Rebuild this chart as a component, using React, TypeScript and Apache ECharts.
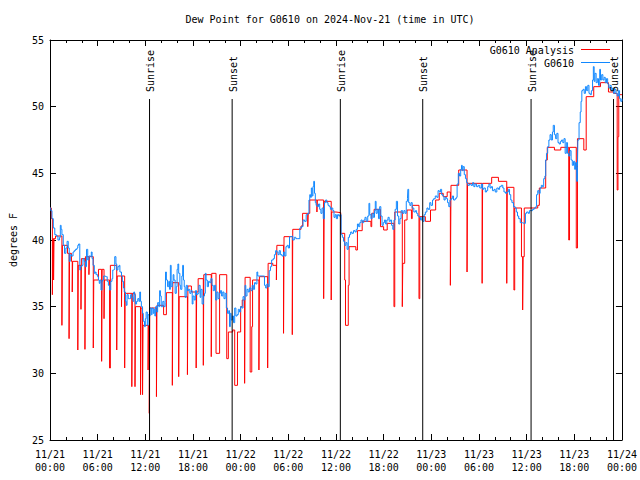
import React, { useEffect, useRef } from "react";
import * as echarts from "echarts";

// Hours since 2024-11-21 00:00 UTC, dew point in degrees F
const analysisPoints: [number, number][] = [
  [0.0, 42.4], [0.17, 41.6], [0.3, 35.9], [0.36, 40.1], [0.45, 37.0], [0.5, 40.1], [0.7, 40.3],
  [1.5, 33.6], [1.56, 39.6], [2.2, 39.0], [2.4, 32.6], [2.46, 39.0], [2.7, 38.4], [2.8, 36.1],
  [2.85, 38.4], [3.5, 31.75], [3.56, 38.1], [3.9, 34.8], [3.95, 38.6], [4.4, 31.8], [4.46, 38.75],
  [4.9, 37.4], [4.95, 38.75], [5.45, 31.9], [5.51, 37.0], [6.1, 37.8], [6.5, 30.9], [6.56, 37.8],
  [6.8, 34.1], [6.85, 37.0], [7.5, 30.4], [7.6, 38.1], [8.4, 31.75], [8.46, 37.3], [9.0, 35.0],
  [9.05, 37.3], [9.4, 30.4], [9.46, 36.0], [10.3, 29.0], [10.36, 36.0], [10.7, 29.0], [10.76, 35.0],
  [11.4, 28.4], [11.46, 34.9], [11.65, 28.4], [11.71, 33.6], [12.35, 30.25], [12.4, 33.6],
  [12.5, 27.0], [12.56, 34.9], [13.4, 28.25], [13.46, 35.1], [14.3, 34.4], [14.65, 36.05],
  [15.4, 29.1], [15.46, 36.8], [16.2, 29.75], [16.26, 35.75], [17.3, 29.9], [17.36, 36.55],
  [17.8, 36.1], [18.4, 30.4], [18.46, 36.1], [18.65, 37.1], [19.3, 30.6], [19.36, 37.4],
  [20.3, 31.25], [20.36, 37.5], [20.9, 31.5], [21.35, 37.4], [22.25, 31.1], [22.45, 33.1],
  [23.0, 33.25], [23.25, 29.1], [23.6, 33.1], [24.0, 35.0], [24.2, 35.5], [24.5, 29.25],
  [24.56, 37.2], [25.2, 30.1], [25.4, 33.5], [25.5, 37.0], [26.3, 30.25], [26.36, 37.25],
  [27.4, 30.4], [27.46, 38.25], [28.05, 38.1], [28.5, 37.0], [28.56, 39.6], [29.4, 33.0],
  [29.46, 40.25], [30.5, 32.9], [30.56, 40.8], [31.6, 41.05], [31.8, 42.0], [32.45, 41.0],
  [32.5, 42.0], [32.7, 43.0], [33.6, 42.1], [33.65, 43.0], [34.45, 35.6], [34.51, 42.9],
  [35.4, 35.5], [35.46, 42.1], [36.0, 42.05], [36.6, 40.5], [37.1, 37.0], [37.2, 33.6],
  [37.55, 36.6], [37.65, 39.5], [38.5, 39.25], [38.7, 40.7], [39.3, 41.4], [40.4, 41.0],
  [40.5, 42.0], [40.8, 42.3], [41.6, 41.0], [42.0, 40.75], [42.45, 41.25], [43.3, 35.0],
  [43.4, 42.1], [44.35, 35.0], [44.41, 38.25], [44.65, 41.5], [44.95, 42.25], [45.5, 41.6],
  [45.6, 42.6], [46.45, 35.6], [46.55, 41.75], [47.25, 41.4], [47.9, 42.25], [48.55, 43.0],
  [49.0, 43.5], [49.5, 43.25], [50.0, 43.6], [50.4, 36.6], [50.48, 44.1], [51.45, 45.25],
  [52.5, 37.6], [52.56, 44.25], [54.4, 36.75], [54.46, 44.25], [55.6, 44.7], [56.45, 44.4],
  [57.5, 36.75], [57.56, 43.95], [58.4, 36.25], [58.5, 42.4], [59.35, 38.75], [59.5, 34.75],
  [59.56, 38.75], [59.7, 42.4], [61.4, 42.6], [61.6, 43.9], [62.4, 46.0], [62.6, 46.95],
  [63.5, 46.75], [64.3, 46.95], [65.3, 40.0], [65.4, 46.95], [66.25, 39.4], [66.4, 47.6],
  [67.2, 46.75], [67.5, 50.75], [68.45, 51.5], [69.3, 51.8], [70.3, 51.1], [70.95, 51.0],
  [71.4, 43.75], [71.5, 47.75], [71.6, 50.9], [72.0, 50.9],
];

const observedPoints: [number, number][] = [
  [0.0, 42.4], [0.1, 42.2], [0.25, 41.6], [0.42, 40.9], [0.6, 40.4], [0.8, 40.3], [1.0, 40.0],
  [1.2, 40.2], [1.3, 41.1], [1.4, 40.8], [1.5, 40.4], [1.67, 39.6], [1.83, 39.0], [2.0, 39.4],
  [2.15, 39.9], [2.3, 39.4], [2.42, 38.4], [2.55, 38.9], [2.7, 38.8], [2.9, 39.1], [3.05, 39.2],
  [3.2, 39.3], [3.4, 39.4], [3.5, 39.6], [3.6, 39.7], [3.75, 37.75], [3.85, 38.0], [4.0, 38.1],
  [4.15, 38.6], [4.3, 38.4], [4.46, 38.0], [4.6, 39.3], [4.75, 38.5], [4.9, 38.8], [5.05, 38.75],
  [5.2, 39.1], [5.3, 38.6], [5.42, 38.1], [5.58, 37.5], [5.7, 37.6], [5.8, 37.4], [6.0, 37.25],
  [6.1, 37.0], [6.2, 36.75], [6.3, 37.0], [6.42, 36.25], [6.55, 36.8], [6.62, 37.0], [6.75, 37.3],
  [6.9, 37.25], [7.1, 37.25], [7.2, 36.9], [7.35, 36.6], [7.5, 36.25], [7.65, 36.9], [7.8, 37.1],
  [7.9, 37.75], [8.0, 37.8], [8.15, 38.75], [8.3, 38.2], [8.4, 37.75], [8.55, 38.0], [8.7, 38.1],
  [8.8, 37.6], [9.0, 37.3], [9.1, 36.9], [9.25, 36.4], [9.35, 36.1], [9.5, 35.4], [9.6, 35.1],
  [9.7, 35.9], [9.85, 35.6], [10.0, 35.6], [10.15, 35.9], [10.3, 35.7], [10.45, 35.4],
  [10.55, 36.1], [10.65, 35.9], [10.75, 35.2], [10.9, 35.4], [11.05, 35.6], [11.2, 35.4],
  [11.3, 36.1], [11.4, 35.4], [11.5, 35.0], [11.65, 34.5], [11.75, 33.9], [11.9, 33.5],
  [12.0, 34.1], [12.1, 34.6], [12.25, 33.6], [12.35, 34.4], [12.5, 34.3], [12.6, 34.9],
  [12.75, 34.4], [12.85, 34.9], [13.0, 34.5], [13.1, 34.8], [13.2, 34.3], [13.3, 35.0],
  [13.45, 34.6], [13.55, 35.3], [13.7, 35.0], [13.8, 36.2], [13.9, 35.8], [14.0, 35.0],
  [14.2, 35.4], [14.35, 35.0], [14.5, 35.3], [14.55, 37.6], [14.65, 37.0], [14.8, 36.5],
  [14.95, 36.9], [15.05, 36.3], [15.15, 38.1], [15.25, 36.5], [15.4, 36.9], [15.5, 37.4],
  [15.6, 37.0], [15.75, 36.0], [15.9, 36.5], [16.0, 37.8], [16.1, 38.2], [16.2, 37.5],
  [16.35, 36.6], [16.45, 36.3], [16.6, 37.3], [16.7, 38.1], [16.8, 37.0], [16.9, 36.5],
  [17.0, 35.7], [17.15, 36.6], [17.3, 36.2], [17.45, 36.3], [17.6, 36.0], [17.75, 36.2],
  [17.9, 35.2], [18.0, 35.8], [18.15, 35.5], [18.3, 36.2], [18.45, 35.9], [18.6, 36.0],
  [18.75, 36.6], [18.9, 35.7], [19.0, 36.3], [19.15, 35.2], [19.3, 35.8], [19.45, 36.0],
  [19.55, 37.5], [19.65, 37.0], [19.8, 36.5], [19.95, 36.9], [20.1, 36.8], [20.25, 37.1],
  [20.4, 36.6], [20.55, 36.2], [20.7, 36.6], [20.85, 35.5], [21.0, 36.1], [21.15, 35.6],
  [21.3, 36.0], [21.45, 36.2], [21.6, 35.8], [21.75, 36.1], [21.9, 35.6], [22.05, 36.0],
  [22.2, 34.9], [22.35, 34.5], [22.5, 34.7], [22.6, 33.5], [22.7, 34.5], [22.8, 34.0],
  [22.95, 34.3], [23.1, 33.8], [23.25, 34.9], [23.4, 34.3], [23.55, 34.4], [23.7, 34.8],
  [23.85, 34.6], [24.0, 35.0], [24.15, 34.9], [24.3, 35.75], [24.45, 35.5], [24.55, 36.6],
  [24.65, 35.8], [24.8, 36.3], [24.95, 36.1], [25.1, 36.4], [25.3, 36.2], [25.45, 36.6],
  [25.6, 36.3], [25.75, 36.8], [25.9, 36.7], [26.05, 37.6], [26.15, 37.3], [26.4, 37.3],
  [26.7, 37.3], [26.9, 37.3], [27.0, 36.6], [27.15, 36.4], [27.3, 36.7], [27.45, 36.5],
  [27.6, 37.7], [27.75, 38.0], [27.9, 38.5], [28.1, 38.6], [28.25, 38.9], [28.4, 39.2],
  [28.55, 39.1], [28.7, 38.9], [28.85, 39.2], [29.0, 38.9], [29.2, 38.8], [29.4, 39.1],
  [29.55, 38.8], [29.7, 39.5], [29.85, 39.6], [30.0, 39.4], [30.15, 40.25], [30.35, 40.3],
  [30.55, 40.0], [30.75, 40.2], [30.95, 40.1], [31.2, 40.1], [31.45, 40.9], [31.65, 41.0],
  [31.85, 41.5], [32.05, 41.4], [32.25, 41.9], [32.45, 42.0], [32.6, 43.0], [32.7, 43.4],
  [32.8, 43.2], [32.9, 43.9], [33.0, 43.3], [33.1, 44.0], [33.2, 44.4], [33.3, 43.5],
  [33.4, 42.8], [33.5, 42.6], [33.65, 42.5], [33.8, 42.7], [33.95, 42.3], [34.1, 42.0],
  [34.25, 42.4], [34.4, 41.6], [34.55, 42.8], [34.7, 43.0], [34.85, 42.8], [35.0, 42.6],
  [35.15, 42.5], [35.3, 42.3], [35.45, 42.4], [35.6, 42.2], [35.75, 41.7], [35.9, 41.9],
  [36.05, 41.6], [36.2, 41.9], [36.35, 41.8], [36.5, 41.9], [36.65, 40.4], [36.8, 40.2],
  [36.95, 39.9], [37.1, 39.6], [37.25, 39.8], [37.4, 39.3], [37.55, 40.2], [37.7, 40.4],
  [37.85, 40.6], [38.0, 40.5], [38.2, 40.7], [38.4, 40.6], [38.55, 40.8], [38.7, 41.2],
  [38.85, 41.0], [39.0, 41.3], [39.15, 41.5], [39.3, 41.3], [39.5, 41.5], [39.65, 41.7],
  [39.8, 41.4], [40.0, 41.8], [40.15, 42.75], [40.25, 41.9], [40.4, 41.6], [40.55, 42.0],
  [40.7, 41.7], [40.85, 42.2], [40.95, 42.9], [41.05, 42.0], [41.2, 42.3], [41.35, 41.6],
  [41.5, 42.5], [41.65, 41.8], [41.8, 41.1], [41.95, 41.3], [42.1, 41.5], [42.25, 41.2],
  [42.4, 41.5], [42.55, 41.7], [42.7, 41.4], [42.85, 41.5], [43.0, 41.1], [43.15, 40.8],
  [43.3, 41.5], [43.45, 42.3], [43.6, 42.9], [43.75, 41.8], [43.9, 41.2], [44.05, 41.6],
  [44.2, 42.2], [44.4, 42.0], [44.55, 42.2], [44.7, 42.0], [44.85, 42.9], [45.0, 43.1],
  [45.05, 43.8], [45.15, 42.8], [45.3, 42.6], [45.45, 42.8], [45.6, 42.4], [45.8, 42.1],
  [46.0, 42.2], [46.15, 42.0], [46.3, 41.8], [46.5, 41.7], [46.65, 41.5], [46.8, 41.7],
  [46.95, 41.4], [47.1, 41.9], [47.25, 42.1], [47.45, 42.4], [47.6, 42.3], [47.8, 42.8],
  [47.95, 42.6], [48.15, 43.0], [48.3, 43.1], [48.5, 43.3], [48.7, 43.2], [48.85, 43.7],
  [49.0, 43.6], [49.15, 43.8], [49.3, 43.4], [49.45, 43.3], [49.6, 43.0], [49.75, 43.2],
  [49.9, 43.1], [50.05, 42.8], [50.2, 42.5], [50.35, 43.0], [50.5, 43.1], [50.65, 43.3],
  [50.8, 43.0], [51.0, 43.1], [51.15, 43.2], [51.25, 44.2], [51.4, 45.0], [51.55, 44.8],
  [51.7, 45.3], [51.8, 45.6], [51.9, 45.2], [52.0, 45.5], [52.15, 44.9], [52.3, 44.6],
  [52.45, 44.3], [52.6, 44.1], [52.8, 44.2], [53.0, 44.1], [53.2, 44.3], [53.35, 44.0],
  [53.5, 44.2], [53.7, 44.0], [53.9, 44.1], [54.1, 43.9], [54.3, 44.2], [54.45, 43.8],
  [54.6, 43.9], [54.8, 43.6], [54.95, 43.7], [55.1, 44.0], [55.25, 44.2], [55.4, 43.9],
  [55.55, 44.0], [55.7, 43.7], [55.9, 43.8], [56.05, 43.6], [56.25, 43.9], [56.45, 43.8],
  [56.6, 44.0], [56.8, 44.1], [57.0, 43.9], [57.15, 43.6], [57.35, 43.5], [57.5, 43.6],
  [57.7, 43.8], [57.85, 43.4], [58.0, 43.0], [58.15, 42.8], [58.35, 42.5], [58.55, 42.4],
  [58.7, 42.1], [58.85, 41.8], [59.0, 41.6], [59.2, 41.3], [59.45, 41.25], [59.7, 41.25],
  [59.85, 42.0], [60.0, 42.1], [60.2, 42.0], [60.35, 42.2], [60.55, 42.2], [60.75, 42.3],
  [60.95, 42.4], [61.15, 42.5], [61.25, 43.4], [61.4, 43.7], [61.55, 43.5], [61.7, 43.9],
  [61.85, 44.1], [62.0, 44.0], [62.15, 44.6], [62.3, 44.8], [62.4, 46.0], [62.5, 46.5],
  [62.65, 47.0], [62.8, 47.5], [62.95, 47.9], [63.1, 47.5], [63.25, 48.1], [63.35, 48.6],
  [63.5, 47.9], [63.65, 47.6], [63.8, 48.0], [63.95, 47.3], [64.1, 47.2], [64.25, 47.4],
  [64.4, 47.5], [64.55, 47.3], [64.7, 47.6], [64.85, 46.5], [65.0, 47.3], [65.15, 46.5],
  [65.3, 46.3], [65.45, 46.7], [65.6, 46.0], [65.75, 45.6], [65.9, 45.9], [66.05, 45.3],
  [66.15, 45.8], [66.3, 44.4], [66.4, 45.5], [66.45, 47.5], [66.6, 48.8], [66.75, 49.6],
  [66.85, 50.4], [66.95, 51.2], [67.1, 51.3], [67.25, 51.0], [67.4, 51.5], [67.55, 51.2],
  [67.7, 51.6], [67.85, 51.0], [68.0, 50.9], [68.15, 51.2], [68.3, 52.0], [68.4, 53.0],
  [68.5, 51.9], [68.6, 52.5], [68.75, 51.8], [68.9, 52.1], [69.05, 51.6], [69.2, 52.8],
  [69.3, 52.0], [69.45, 52.4], [69.6, 52.0], [69.75, 52.2], [69.9, 51.8], [70.05, 52.1],
  [70.2, 51.7], [70.35, 51.4], [70.5, 51.6], [70.65, 51.2], [70.8, 51.4], [70.95, 51.0],
  [71.1, 51.3], [71.25, 51.0], [71.4, 50.8], [71.55, 51.2], [71.7, 50.6], [71.85, 50.4],
  [72.0, 50.6],
];

const sunHours = [12.53, 22.93, 36.55, 46.92, 60.56, 70.94];
const sunLabels = ["Sunrise", "Sunset", "Sunrise", "Sunset", "Sunrise", "Sunset"];

const xTickLabels = [
  "11/21\n00:00", "11/21\n06:00", "11/21\n12:00", "11/21\n18:00",
  "11/22\n00:00", "11/22\n06:00", "11/22\n12:00", "11/22\n18:00",
  "11/23\n00:00", "11/23\n06:00", "11/23\n12:00", "11/23\n18:00",
  "11/24\n00:00",
];

const titleText = "Dew Point for G0610 on 2024-Nov-21 (time in UTC)";
const yAxisName = "degrees F";
const seriesNames = ["G0610 Analysis", "G0610"];
const seriesColors = ["#ff0000", "#1188ff"];

const FONT_FAMILY = '"DejaVu Sans Mono", "Liberation Mono", monospace';
const FONT = `10px ${FONT_FAMILY}`;

export default function App() {
  const ref = useRef<HTMLDivElement>(null);

  useEffect(() => {
    if (!ref.current) return;
    const chart = echarts.init(ref.current, null, { renderer: "svg" });

    const axisLine = { show: true, onZero: false, lineStyle: { color: "#000", width: 1 } };
    const xCommon = {
      type: "value" as const,
      min: 0,
      max: 72,
      interval: 6,
      axisLine,
      axisTick: { show: true, inside: true, length: 6, lineStyle: { color: "#000" } },
      minorTick: { show: true, splitNumber: 3, length: 3, lineStyle: { color: "#000" } },
      splitLine: { show: false },
      minorSplitLine: { show: false },
    };
    const yCommon = {
      type: "value" as const,
      min: 25,
      max: 55,
      interval: 5,
      axisLine,
      axisTick: { show: true, inside: true, length: 6, lineStyle: { color: "#000" } },
      splitLine: { show: false },
    };

    const option: any = {
      animation: false,
      backgroundColor: "#fff",
      grid: { left: 46, right: 18, top: 40, bottom: 40, containLabel: false },
      xAxis: [
        {
          ...xCommon,
          position: "bottom",
          axisLabel: {
            show: true,
            color: "#000",
            fontFamily: FONT_FAMILY,
            fontSize: 10,
            lineHeight: 13,
            margin: 8,
            showMinLabel: true,
            showMaxLabel: true,
            formatter: (v: number) => xTickLabels[Math.round(v / 6)] ?? "",
          },
        },
        { ...xCommon, position: "top", axisLabel: { show: false } },
      ],
      yAxis: [
        {
          ...yCommon,
          position: "left",
          name: yAxisName,
          nameLocation: "middle",
          nameGap: 32,
          nameRotate: 90,
          nameTextStyle: { color: "#000", fontFamily: FONT_FAMILY, fontSize: 10 },
          axisLabel: {
            show: true,
            color: "#000",
            fontFamily: FONT_FAMILY,
            fontSize: 10,
            margin: 6,
            showMinLabel: true,
            showMaxLabel: true,
          },
        },
        { ...yCommon, position: "right", axisLabel: { show: false } },
      ],
      series: [
        {
          name: seriesNames[0],
          type: "line",
          step: "end",
          data: analysisPoints,
          showSymbol: false,
          symbol: "none",
          clip: true,
          lineStyle: { color: seriesColors[0], width: 1 },
          itemStyle: { color: seriesColors[0] },
          z: 2,
          silent: true,
        },
        {
          name: seriesNames[1],
          type: "line",
          step: "end",
          data: observedPoints,
          showSymbol: false,
          symbol: "none",
          clip: true,
          lineStyle: { color: seriesColors[1], width: 1 },
          itemStyle: { color: seriesColors[1] },
          z: 3,
          silent: true,
        },
        {
          type: "custom",
          data: sunHours.map((h, i) => [h, i]),
          z: 4,
          silent: true,
          renderItem: (params: any, api: any) => {
            const h = api.value(0);
            const idx = api.value(1);
            const topPt = api.coord([h, 55]);
            const botPt = api.coord([h, 25]);
            const lineTop = topPt[1] + 59;
            return {
              type: "group",
              children: [
                {
                  type: "line",
                  shape: { x1: botPt[0], y1: lineTop, x2: botPt[0], y2: botPt[1] },
                  style: { stroke: "#000", lineWidth: 1 },
                },
                {
                  type: "text",
                  x: botPt[0] + 1,
                  y: lineTop - 7,
                  rotation: Math.PI / 2,
                  style: {
                    text: sunLabels[idx],
                    font: FONT,
                    fill: "#000",
                    align: "left",
                    verticalAlign: "middle",
                    textAlign: "left",
                    textVerticalAlign: "middle",
                  },
                },
              ],
            };
          },
        },
      ],
      graphic: [
        {
          type: "text",
          x: 330,
          y: 19,
          style: {
            text: titleText,
            font: FONT,
            fill: "#000",
            align: "center",
            verticalAlign: "middle",
            textAlign: "center",
            textVerticalAlign: "middle",
          },
        },
        {
          type: "text",
          x: 574,
          y: 50,
          z: 10,
          style: {
            text: seriesNames[0],
            font: FONT,
            fill: "#000",
            align: "right",
            verticalAlign: "middle",
            textAlign: "right",
            textVerticalAlign: "middle",
          },
        },
        {
          type: "line",
          z: 10,
          shape: { x1: 581, y1: 49.5, x2: 610, y2: 49.5 },
          style: { stroke: seriesColors[0], lineWidth: 1 },
        },
        {
          type: "text",
          x: 574,
          y: 63,
          z: 10,
          style: {
            text: seriesNames[1],
            font: FONT,
            fill: "#000",
            align: "right",
            verticalAlign: "middle",
            textAlign: "right",
            textVerticalAlign: "middle",
          },
        },
        {
          type: "line",
          z: 10,
          shape: { x1: 581, y1: 62.5, x2: 610, y2: 62.5 },
          style: { stroke: seriesColors[1], lineWidth: 1 },
        },
      ],
    };

    chart.setOption(option);
    return () => chart.dispose();
  }, []);

  return (
    <div
      ref={ref}
      style={{ position: "absolute", left: 0, top: 0, width: 640, height: 480 }}
    />
  );
}
